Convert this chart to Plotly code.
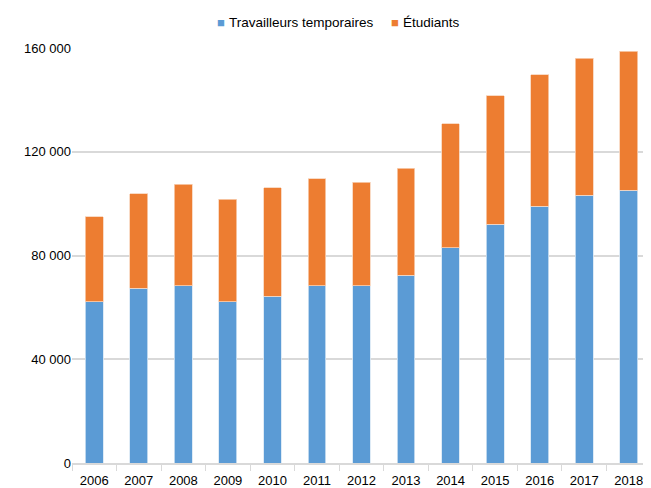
import plotly.graph_objects as go

years = ["2006", "2007", "2008", "2009", "2010", "2011", "2012",
         "2013", "2014", "2015", "2016", "2017", "2018"]
travailleurs = [62200, 67400, 68400, 62200, 64200, 68400, 68400,
                72300, 83000, 92100, 99000, 103300, 105200]
etudiants = [32700, 36500, 39100, 39500, 42000, 41100, 39900,
             41400, 47800, 49500, 50700, 52700, 53500]
y_tickvals = [0, 40000, 80000, 120000, 160000]
y_ticktext = ["0", "40 000", "80 000", "120 000", "160 000"]
series_names = ["Travailleurs temporaires", "Étudiants"]
colors = ["#5B9BD5", "#ED7D31"]

fig = go.Figure()
fig.add_trace(go.Bar(x=years, y=travailleurs, name=series_names[0],
                     marker=dict(color=colors[0], line=dict(color="#d6e6f4", width=0.8))))
fig.add_trace(go.Bar(x=years, y=etudiants, name=series_names[1],
                     marker=dict(color=colors[1], line=dict(color="#f8d2b8", width=0.8))))

fig.update_layout(
    width=643, height=480,
    barmode="stack", bargap=0.6,
    paper_bgcolor="white", plot_bgcolor="white",
    margin=dict(l=64, r=0, t=40, b=25, autoexpand=False),
    font=dict(family="Liberation Sans, Arial, sans-serif", size=13, color="#000000"),
    showlegend=False,
)

# legend drawn as text annotations
leg_y = 1.0605
for sq_x, tx_x, name, col in [(0.2574, 0.2694, series_names[0], colors[0]),
                              (0.5579, 0.5699, series_names[1], colors[1])]:
    fig.add_annotation(x=sq_x, y=leg_y, xref="paper", yref="paper", text="■",
                       showarrow=False, xanchor="center", yanchor="middle",
                       font=dict(size=13, color=col), borderpad=0)
    fig.add_annotation(x=tx_x, y=leg_y, xref="paper", yref="paper", text=name,
                       showarrow=False, xanchor="left", yanchor="middle",
                       font=dict(size=13.5, color="#000000"), borderpad=0)

fig.update_xaxes(type="category", showgrid=False, showline=True, linecolor="#d9d9d9",
                 linewidth=1.5, ticks="outside", tickson="boundaries", ticklen=6,
                 tickcolor="#d9d9d9", tickfont=dict(size=13), tickangle=0,
                 ticklabelstandoff=5, automargin=False)
fig.update_yaxes(range=[0, 160000], tickvals=y_tickvals, ticktext=y_ticktext,
                 showgrid=True, gridcolor="#d9d9d9", gridwidth=1.5, zeroline=False,
                 showline=False, ticks="", ticklen=0, tickfont=dict(size=13),
                 automargin=False)

fig.write_html("out.html")
